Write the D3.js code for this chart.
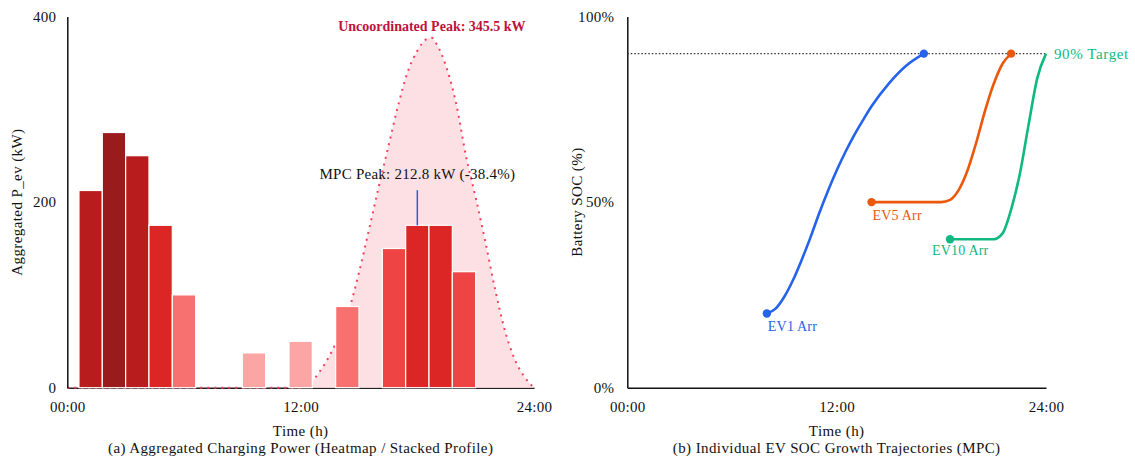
<!DOCTYPE html>
<html>
<head>
<meta charset="utf-8">
<script src="https://cdn.jsdelivr.net/npm/d3@7"></script>
<style>
  html, body { margin: 0; padding: 0; background: #fff; }
  svg text { font-family: "Liberation Serif", "Times New Roman", serif; }
</style>
</head>
<body>
<div id="chart"></div>
<script>
// --- DATA ---
// (a) MPC aggregated power, 1.2 h bins (bin centre hours)
const binHours = [0, 1.2, 2.4, 3.6, 4.8, 6, 7.2, 8.4, 9.6, 10.8, 12, 13.2, 14.4, 15.6, 16.8, 18, 19.2, 20.4, 21.6, 22.8, 24];
const mpcPower = [0, 212.5, 275, 250, 175, 100, 0, 0, 37.5, 0, 50, 0, 87.5, 0, 150, 175, 175, 125, 0, 0, 0];

// uncoordinated profile (dotted envelope)
const uncHours = [0, 6, 12, 12.5, 13, 13.5, 14, 14.5, 15, 15.5, 16, 16.5, 17, 17.5, 18, 18.5, 18.75, 19, 19.5, 20, 20.5, 21, 21.5, 22, 22.5, 23, 23.5, 24];
const uncPower = [0, 0, 0, 5, 18, 35, 57, 85, 124, 169, 215, 259, 303, 340, 363, 376, 377, 370, 345, 306, 250, 205, 157, 106, 62, 31, 12, 0];

const uncPeakLabel = "Uncoordinated Peak: 345.5 kW";
const mpcPeakHour = 18, mpcPeakValue = 212.8;
const mpcPeakLabel = "MPC Peak: 212.8 kW (-38.4%)";

// (b) SOC trajectories
const evNames = ["EV1", "EV5", "EV10"];
const ev1Hours = [8, 8.5, 9, 9.5, 10, 10.5, 11, 11.5, 12, 12.5, 13, 13.5, 14, 15, 16, 17];
const ev1Soc   = [20, 21.3, 24.5, 29, 34.5, 40.5, 47, 53, 58.5, 63.5, 68, 72, 75.8, 82, 86.8, 90];
const ev5Hours = [14, 15, 16, 17, 18, 18.5, 19, 19.5, 20, 20.5, 21, 21.5, 22];
const ev5Soc   = [50, 50, 50, 50, 50, 50.6, 53.3, 58.5, 66, 74.5, 81.8, 87.2, 90];
const ev10Hours = [18.5, 19, 20, 21, 21.5, 22, 22.5, 23, 23.5, 24];
const ev10Soc   = [40, 40, 40, 40, 41.5, 48, 57.6, 70.8, 83.4, 90];
const targetSoc = 90;

const timeTicks = [0, 12, 24];
const powerTicks = [0, 200, 400];
const socTicks = [0, 50, 100];

// --- LAYOUT ---
const W = 1135, H = 463;
const yTop = 16.5, yBot = 387.7;
const svg = d3.select("#chart").append("svg").attr("width", W).attr("height", H);

const fmtTime = h => String(h).padStart(2, "0") + ":00";
const styleTicks = g => g.selectAll("text")
  .attr("font-size", 15).attr("letter-spacing", 0.3).attr("fill", "#111").attr("font-family", null);

// ================= (a) =================
const xA = d3.scaleLinear().domain([0, 24]).range([67.3, 534]);
const yA = d3.scaleLinear().domain([0, 400]).range([yBot, yTop]);
const gA = svg.append("g");

// x axis (baseline)
gA.append("g")
  .attr("transform", `translate(0,${yBot})`)
  .call(d3.axisBottom(xA).tickValues(timeTicks).tickFormat(fmtTime).tickSize(0).tickSizeOuter(0).tickPadding(14))
  .call(g => g.select(".domain").attr("stroke", "#222").attr("stroke-width", 1.5))
  .call(styleTicks);

const uncData = uncHours.map((h, i) => ({ h, v: uncPower[i] }));
gA.append("path")
  .datum(uncData)
  .attr("fill", "#fde0e4")
  .attr("d", d3.area().x(d => xA(d.h)).y0(yA(0)).y1(d => yA(d.v)).curve(d3.curveMonotoneX));
gA.append("path")
  .datum(uncData)
  .attr("fill", "none")
  .attr("stroke", "#f43f5e")
  .attr("stroke-width", 2)
  .attr("stroke-dasharray", "2,5")
  .attr("d", d3.line().x(d => xA(d.h)).y(d => yA(d.v)).curve(d3.curveMonotoneX));

// heat colours
const heat = d3.scaleThreshold()
  .domain([60, 110, 160, 200, 260])
  .range(["#fca5a5", "#f87171", "#ef4444", "#dc2626", "#b91c1c", "#991b1b"]);

const binW = xA(1.2) - xA(0);
const bars = binHours.map((h, i) => ({ h, v: mpcPower[i] })).filter(d => d.v > 0);
gA.selectAll("rect.bar")
  .data(bars)
  .enter()
  .append("rect")
  .attr("class", "bar")
  .attr("x", d => xA(d.h) - binW / 2)
  .attr("y", d => yA(d.v))
  .attr("width", binW)
  .attr("height", d => yA(0) - yA(d.v))
  .attr("fill", d => heat(d.v))
  .attr("stroke", "#fff")
  .attr("stroke-width", 1.2);

// y axis
gA.append("g")
  .attr("transform", `translate(${xA(0)},0)`)
  .call(d3.axisLeft(yA).tickValues(powerTicks).tickSize(0).tickSizeOuter(0).tickPadding(11))
  .call(g => g.select(".domain").attr("stroke", "#111").attr("stroke-width", 1.5))
  .call(styleTicks);

// peak annotations
const peakIdx = d3.maxIndex(uncPower);
gA.append("text")
  .attr("x", xA(uncHours[peakIdx]))
  .attr("y", yA(uncPower[peakIdx]) - 7)
  .attr("text-anchor", "middle")
  .attr("font-size", 14)
  .attr("font-weight", "bold")
  .attr("fill", "#be123c")
  .text(uncPeakLabel);

const mpcBar = bars.find(d => d.h === mpcPeakHour);
gA.append("line")
  .attr("x1", xA(mpcPeakHour)).attr("x2", xA(mpcPeakHour))
  .attr("y1", yA(mpcBar.v)).attr("y2", yA(mpcPeakValue))
  .attr("stroke", "#2b59d9").attr("stroke-width", 1.5);
gA.append("text")
  .attr("x", xA(mpcPeakHour))
  .attr("y", yA(mpcPeakValue) - 11)
  .attr("text-anchor", "middle")
  .attr("font-size", 15)
  .attr("letter-spacing", 0.25)
  .attr("fill", "#111")
  .text(mpcPeakLabel);

// titles
const title = (g, x, y, txt, rot) => g.append("text")
  .attr("transform", rot ? `translate(${x},${y}) rotate(-90)` : `translate(${x},${y})`)
  .attr("text-anchor", "middle").attr("font-size", 15).attr("letter-spacing", 0.4).attr("fill", "#111")
  .text(txt);

title(gA, 22, (yTop + yBot) / 2, "Aggregated P_ev (kW)", true);
title(gA, (xA(0) + xA(24)) / 2, 436, "Time (h)");
title(gA, (xA(0) + xA(24)) / 2, 453, "(a) Aggregated Charging Power (Heatmap / Stacked Profile)");

// ================= (b) =================
const xB = d3.scaleLinear().domain([0, 24]).range([627.3, 1046]);
const yB = d3.scaleLinear().domain([0, 100]).range([yBot, yTop]);
const gB = svg.append("g");

gB.append("g")
  .attr("transform", `translate(0,${yBot})`)
  .call(d3.axisBottom(xB).tickValues(timeTicks).tickFormat(fmtTime).tickSize(0).tickSizeOuter(0).tickPadding(14))
  .call(g => g.select(".domain").attr("stroke", "#111").attr("stroke-width", 1.5))
  .call(styleTicks);
gB.append("g")
  .attr("transform", `translate(${xB(0)},0)`)
  .call(d3.axisLeft(yB).tickValues(socTicks).tickFormat(d => d + "%").tickSize(0).tickSizeOuter(0).tickPadding(13))
  .call(g => g.select(".domain").attr("stroke", "#111").attr("stroke-width", 1.5))
  .call(styleTicks);

// 90% target line
gB.append("line")
  .attr("x1", xB(0)).attr("x2", xB(24))
  .attr("y1", yB(targetSoc)).attr("y2", yB(targetSoc))
  .attr("stroke", "#333").attr("stroke-width", 1.2).attr("stroke-dasharray", "1.5,2");

const evColors = ["#2563eb", "#ea580c", "#10b981"];
const evSeries = [
  { name: evNames[0], hours: ev1Hours, soc: ev1Soc, endDot: true, dx: 1, dy: 17.5 },
  { name: evNames[1], hours: ev5Hours, soc: ev5Soc, endDot: true, dx: 1, dy: 17.5 },
  { name: evNames[2], hours: ev10Hours, soc: ev10Soc, endDot: false, dx: -18, dy: 16 }
];
const socLine = d3.line().x(d => xB(d.h)).y(d => yB(d.s)).curve(d3.curveMonotoneX);

evSeries.forEach((ev, i) => {
  const c = evColors[i];
  const pts = ev.hours.map((h, j) => ({ h, s: ev.soc[j] }));
  gB.append("path")
    .datum(pts)
    .attr("fill", "none")
    .attr("stroke", c)
    .attr("stroke-width", 2.6)
    .attr("d", socLine);
  const dots = ev.endDot ? [pts[0], pts[pts.length - 1]] : [pts[0]];
  gB.selectAll(null)
    .data(dots)
    .enter()
    .append("circle")
    .attr("cx", d => xB(d.h))
    .attr("cy", d => yB(d.s))
    .attr("r", 4.2)
    .attr("fill", c);
  gB.append("text")
    .attr("x", xB(pts[0].h) + ev.dx)
    .attr("y", yB(pts[0].s) + ev.dy)
    .attr("font-size", 14)
    .attr("letter-spacing", 0.2)
    .attr("fill", c)
    .text(ev.name + " Arr");
});

gB.append("text")
  .attr("x", xB(24) + 8)
  .attr("y", yB(targetSoc) + 5)
  .attr("font-size", 15)
  .attr("letter-spacing", 0.6)
  .attr("fill", evColors[2])
  .text("90% Target");

title(gB, 582, (yTop + yBot) / 2, "Battery SOC (%)", true);
title(gB, (xB(0) + xB(24)) / 2, 436, "Time (h)");
title(gB, (xB(0) + xB(24)) / 2, 453, "(b) Individual EV SOC Growth Trajectories (MPC)");
</script>
</body>
</html>
